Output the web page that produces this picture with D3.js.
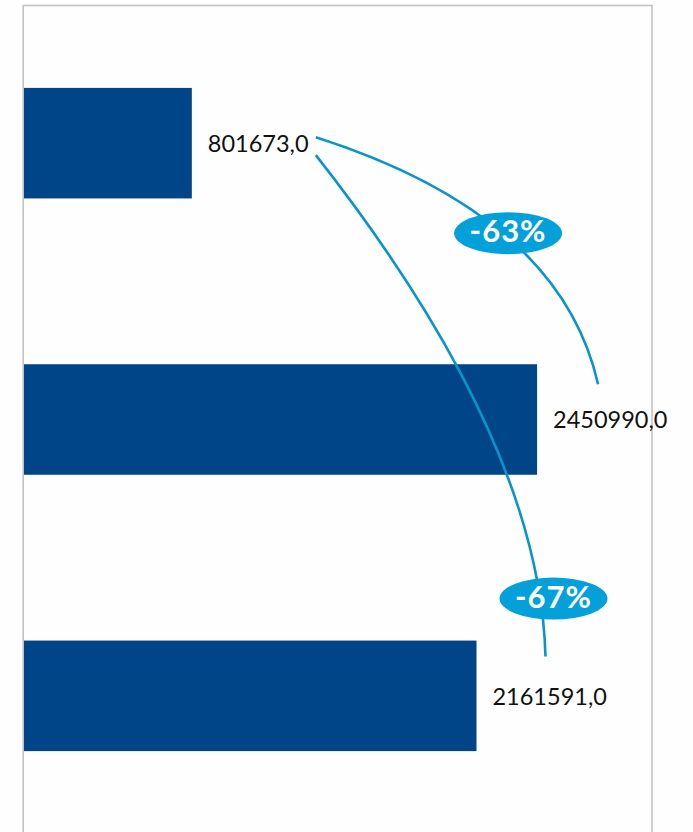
<!DOCTYPE html>
<html>
<head>
<meta charset="utf-8">
<script src="https://cdn.jsdelivr.net/npm/d3@7"></script>
<style>
  html, body { margin: 0; padding: 0; background: #fefefe; }
  svg { display: block; }
</style>
</head>
<body>
<svg id="chart" width="693" height="832"></svg>
<script>
// Values per category (top to bottom)
const categories = ["Periode 1", "Periode 2", "Periode 3"];
const values = [801673.0, 2450990.0, 2161591.0];
// Change badges on the connectors: [from index, to index, label]
const changeFrom = [0, 0];
const changeTo = [1, 2];
const changeLabels = ["-63%", "-67%"];

const W = 693, H = 832;
const plot = { left: 24, right: 652, top: 5, bottom: 834 };
const barColor = "#004587";
const accent = "#03a0da";
const lineColor = "#0b93cc";

const svg = d3.select("#chart");

const x = d3.scaleLinear().domain([0, 3000000]).range([plot.left, plot.right]);
const y = d3.scaleBand().domain(categories)
  .range([plot.top, plot.bottom])
  .paddingInner(0.6).paddingOuter(0.3);

// Plot area frame
svg.append("rect")
  .attr("x", plot.left - 0.8).attr("y", plot.top + 0.5)
  .attr("width", plot.right - plot.left + 0.8).attr("height", plot.bottom - plot.top + 20)
  .attr("fill", "#fefefe")
  .attr("stroke", "#c3c3c3").attr("stroke-width", 1.6);

// Bars
svg.selectAll("rect.bar").data(values).join("rect")
  .attr("class", "bar")
  .attr("x", x(0))
  .attr("y", (d, i) => y(categories[i]))
  .attr("width", d => x(d) - x(0))
  .attr("height", y.bandwidth())
  .attr("fill", barColor);

const fmt = v => d3.format(".1f")(v).replace(".", ",");

// Value labels
svg.selectAll("text.val").data(values).join("text")
  .attr("class", "val")
  .attr("x", d => x(d) + 16)
  .attr("y", (d, i) => y(categories[i]) + y.bandwidth() / 2 + 3)
  .attr("dominant-baseline", "middle")
  .attr("font-family", "Lato, 'Open Sans', sans-serif")
  .attr("font-size", 23.5)
  .attr("fill", "#111")
  .text(d => fmt(d));

// Connectors from the first value to the later ones
const mid = i => y(categories[i]) + y.bandwidth() / 2;
const connectors = [
  {
    p0: [x(values[changeFrom[0]]) + 124, mid(changeFrom[0]) - 6],
    c:  [x(values[changeFrom[0]]) + 368, mid(changeFrom[0]) + 72],
    p2: [x(values[changeTo[0]]) + 61, y(categories[changeTo[0]]) + 20],
    badge: [x(values[changeTo[0]]) - 29, mid(changeFrom[0]) + 90],
    label: changeLabels[0]
  },
  {
    p0: [x(values[changeFrom[1]]) + 124, mid(changeFrom[1]) + 12],
    c:  [x(values[changeFrom[1]]) + 348, mid(changeFrom[1]) + 297],
    p2: [x(values[changeTo[1]]) + 69, y(categories[changeTo[1]]) + 16],
    badge: [x(values[changeTo[1]]) + 77, y(categories[changeTo[1]]) - 42],
    label: changeLabels[1]
  }
];

connectors.forEach(c => {
  const p = d3.path();
  p.moveTo(c.p0[0], c.p0[1]);
  p.quadraticCurveTo(c.c[0], c.c[1], c.p2[0], c.p2[1]);
  svg.append("path")
    .attr("d", p.toString())
    .attr("fill", "none")
    .attr("stroke", lineColor)
    .attr("stroke-width", 2.6)
    .attr("stroke-linecap", "butt");
});

connectors.forEach(c => {
  svg.append("ellipse")
    .attr("cx", c.badge[0]).attr("cy", c.badge[1])
    .attr("rx", 54).attr("ry", 21)
    .attr("fill", accent);
  svg.append("text")
    .attr("x", c.badge[0]).attr("y", c.badge[1] + 1)
    .attr("text-anchor", "middle")
    .attr("dominant-baseline", "middle")
    .attr("font-family", "Lato, 'Open Sans', sans-serif")
    .attr("font-weight", "bold")
    .attr("font-size", 31)
    .attr("letter-spacing", 1)
    .attr("fill", "#ffffff")
    .text(c.label);
});
</script>
</body>
</html>
